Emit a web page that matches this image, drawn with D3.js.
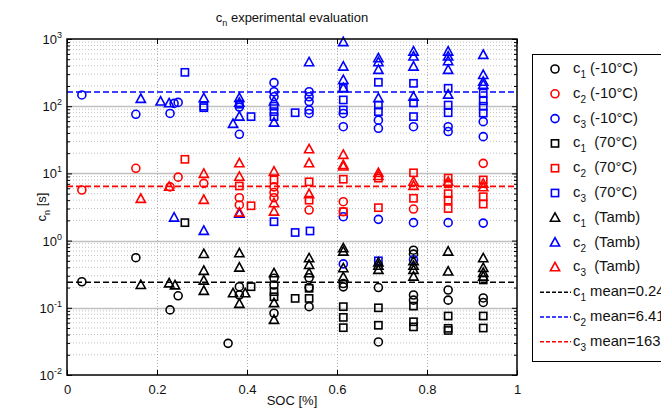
<!DOCTYPE html>
<html><head><meta charset="utf-8">
<script src="https://cdn.jsdelivr.net/npm/d3@7"></script>
<style>body{margin:0;background:#fff}svg{display:block;font-family:"Liberation Sans",Arial,sans-serif}</style>
</head><body><svg id="c" width="661" height="414"></svg>
<script>
// [SOC, value] pairs
const c1_m10 = [[0.033,0.244],[0.153,0.557],[0.229,0.093],[0.247,0.151],[0.383,0.206],[0.383,0.155],[0.358,0.0296],[0.46,0.275],[0.46,0.218],[0.46,0.083],[0.538,0.28],[0.538,0.2],[0.538,0.104],[0.614,0.23],[0.614,0.205],[0.692,0.2],[0.692,0.031],[0.77,0.72],[0.77,0.63],[0.77,0.155],[0.77,0.13],[0.847,0.184],[0.847,0.13],[0.925,0.14],[0.925,0.12]];
const c2_m10 = [[0.033,5.66],[0.153,11.9],[0.247,8.8],[0.229,6.3],[0.304,7.1],[0.383,4.35],[0.383,3.39],[0.46,6.3],[0.46,5.2],[0.46,4.35],[0.538,2.85],[0.614,3.79],[0.614,2.69],[0.77,2.95],[0.925,14.1]];
const c3_m10 = [[0.033,147],[0.153,75.7],[0.229,78],[0.238,110],[0.247,114],[0.383,38.2],[0.383,97],[0.46,224],[0.46,164],[0.46,138],[0.538,164],[0.538,138],[0.538,117],[0.538,88],[0.538,78],[0.614,78],[0.614,49.5],[0.614,2.27],[0.614,0.45],[0.692,62],[0.692,46.9],[0.692,2.07],[0.77,49.5],[0.77,1.85],[0.77,0.52],[0.847,49.5],[0.847,42],[0.847,1.85],[0.925,58.9],[0.925,35.2],[0.925,1.82]];
const c1_70 = [[0.262,1.85],[0.409,0.206],[0.507,0.138],[0.46,0.174],[0.46,0.146],[0.538,0.195],[0.538,0.138],[0.614,0.104],[0.614,0.072],[0.614,0.0506],[0.692,0.1],[0.692,0.055],[0.77,0.106],[0.77,0.062],[0.77,0.052],[0.847,0.0755],[0.847,0.0495],[0.847,0.046],[0.925,0.26],[0.925,0.0755],[0.925,0.05]];
const c2_70 = [[0.262,16.2],[0.383,6.5],[0.409,3.3],[0.46,8.0],[0.538,7.5],[0.538,4.0],[0.614,8.2],[0.614,2.69],[0.692,8.5],[0.692,3.09],[0.77,10.2],[0.77,4.26],[0.847,8.5],[0.847,7.0],[0.847,5.0],[0.847,4.0],[0.847,3.0],[0.925,8.0],[0.925,4.5],[0.925,3.5]];
const c3_70 = [[0.262,319],[0.304,100],[0.304,95],[0.383,107],[0.409,70],[0.46,100],[0.46,83],[0.46,70],[0.507,80],[0.614,185],[0.614,124],[0.614,88],[0.692,227],[0.692,104],[0.692,83],[0.77,219],[0.77,112],[0.77,70],[0.847,185],[0.847,104],[0.847,80],[0.925,157],[0.925,120],[0.925,100],[0.925,79],[0.46,1.91],[0.507,1.32],[0.54,1.39],[0.692,0.5]];
const c1_amb = [[0.164,0.218],[0.227,0.23],[0.240,0.215],[0.304,0.63],[0.304,0.353],[0.304,0.253],[0.304,0.178],[0.383,0.647],[0.383,0.395],[0.369,0.164],[0.396,0.164],[0.383,0.114],[0.46,0.326],[0.46,0.117],[0.46,0.066],[0.538,0.545],[0.538,0.433],[0.538,0.326],[0.614,0.768],[0.614,0.684],[0.614,0.387],[0.614,0.284],[0.692,0.47],[0.692,0.42],[0.692,0.365],[0.77,0.49],[0.77,0.42],[0.77,0.365],[0.77,0.29],[0.847,0.684],[0.847,0.345],[0.925,0.545],[0.925,0.39],[0.925,0.33],[0.925,0.29]];
const c2_amb = [[0.164,128],[0.208,117],[0.227,110],[0.238,2.19],[0.304,131],[0.304,1.39],[0.383,132],[0.383,112],[0.383,69.8],[0.369,54.3],[0.383,2.5],[0.46,117],[0.46,56.8],[0.538,450],[0.614,894],[0.614,387],[0.614,245],[0.614,185],[0.692,516],[0.692,450],[0.692,346],[0.692,131],[0.77,647],[0.77,546],[0.77,387],[0.77,138],[0.847,647],[0.847,546],[0.847,466],[0.847,346],[0.847,148],[0.925,578],[0.925,291],[0.925,230],[0.925,207]];
const c3_amb = [[0.164,4.16],[0.227,6.3],[0.304,9.8],[0.304,4.02],[0.383,14.1],[0.383,8.9],[0.383,2.6],[0.46,10.6],[0.46,3.59],[0.46,2.69],[0.538,22.8],[0.538,14.1],[0.538,4.9],[0.614,18.8],[0.614,13.3],[0.614,12.6],[0.692,10.1],[0.692,9.1],[0.77,7.5],[0.77,6.5],[0.847,7.5],[0.925,7.0],[0.925,6.2]];
const means = [0.24, 163, 6.41];
const meanLabels = ["0.24", "6.41", "163"];
const xTicks = [0, 0.2, 0.4, 0.6, 0.8, 1];
const yTicks = [0.01, 0.1, 1, 10, 100, 1000];
const yExps = ["-2", "-1", "0", "1", "2", "3"];

const series = [
  {data:c1_m10, sym:"circle", col:"#000", sub:"1", lab:" (-10°C)"},
  {data:c2_m10, sym:"circle", col:"#ff0000", sub:"2", lab:" (-10°C)"},
  {data:c3_m10, sym:"circle", col:"#0000ff", sub:"3", lab:" (-10°C)"},
  {data:c1_70, sym:"square", col:"#000", sub:"1", lab:"  (70°C)"},
  {data:c2_70, sym:"square", col:"#ff0000", sub:"2", lab:"  (70°C)"},
  {data:c3_70, sym:"square", col:"#0000ff", sub:"3", lab:"  (70°C)"},
  {data:c1_amb, sym:"tri", col:"#000", sub:"1", lab:"  (Tamb)"},
  {data:c2_amb, sym:"tri", col:"#0000ff", sub:"2", lab:"  (Tamb)"},
  {data:c3_amb, sym:"tri", col:"#ff0000", sub:"3", lab:"  (Tamb)"}
];
const meanCols = ["#000", "#0000ff", "#ff0000"];

const L=67, R=517, T=39, B=375;
const x = d3.scaleLinear().domain([0,1]).range([L,R]);
const y = d3.scaleLog().domain([0.01,1000]).range([B,T]);
const svg = d3.select("#c");

// grid
const g = svg.append("g");
const minors = [];
for (let e=-2;e<3;e++) for (let m=2;m<10;m++) minors.push(m*Math.pow(10,e));
g.selectAll(".mn").data(minors).join("line").attr("x1",L).attr("x2",R)
  .attr("y1",d=>y(d)).attr("y2",d=>y(d)).attr("stroke","#c0c0c0").attr("stroke-width",1).attr("stroke-dasharray","1,2");
g.selectAll(".mj").data(yTicks.slice(1,-1)).join("line").attr("x1",L).attr("x2",R)
  .attr("y1",d=>Math.round(y(d))+0.5).attr("y2",d=>Math.round(y(d))+0.5).attr("stroke","#c0c0c0").attr("stroke-width",1.5);
g.selectAll(".vx").data(xTicks.slice(1,-1)).join("line").attr("y1",T).attr("y2",B)
  .attr("x1",d=>Math.round(x(d))+0.5).attr("x2",d=>Math.round(x(d))+0.5).attr("stroke","#b0b0b0").attr("stroke-dasharray","1,2");

// axes (inward ticks)
svg.append("g").attr("transform",`translate(0,${B})`)
  .call(d3.axisBottom(x).tickValues(xTicks).tickSizeInner(-5).tickSizeOuter(0).tickPadding(10).tickFormat(d=>d3.format("")(d)))
  .call(s=>{s.select(".domain").remove();s.selectAll("text").attr("font-size",13).attr("font-family","Liberation Sans, Arial").attr("fill","#111");});
svg.append("g").attr("transform",`translate(0,${T})`)
  .call(d3.axisTop(x).tickValues(xTicks).tickSizeInner(-5).tickSizeOuter(0).tickFormat(""))
  .call(s=>s.select(".domain").remove());
svg.append("g").attr("transform",`translate(${L},0)`)
  .call(d3.axisLeft(y).tickValues(minors).tickSizeInner(-3).tickSizeOuter(0).tickFormat(""))
  .call(s=>s.select(".domain").remove());
svg.append("g").attr("transform",`translate(${R},0)`)
  .call(d3.axisRight(y).tickValues(minors).tickSizeInner(-3).tickSizeOuter(0).tickFormat(""))
  .call(s=>s.select(".domain").remove());
svg.append("g").attr("transform",`translate(${L},0)`)
  .call(d3.axisLeft(y).tickValues(yTicks).tickSizeInner(-5).tickSizeOuter(0).tickFormat(""))
  .call(s=>s.select(".domain").remove());
svg.append("g").attr("transform",`translate(${R},0)`)
  .call(d3.axisRight(y).tickValues(yTicks).tickSizeInner(-5).tickSizeOuter(0).tickFormat(""))
  .call(s=>s.select(".domain").remove());

// y tick labels 10^n
yTicks.forEach((v,i)=>{
  const t = svg.append("text").attr("x",62).attr("y",y(v)+5).attr("text-anchor","end").attr("font-size",13).attr("fill","#111");
  t.append("tspan").text("10");
  t.append("tspan").attr("dy",-6).attr("font-size",9).text(yExps[i]);
});

// mean lines
means.forEach((m,i)=>{
  svg.append("line").attr("x1",L).attr("x2",R).attr("y1",y(m)).attr("y2",y(m))
    .attr("stroke",meanCols[i]).attr("stroke-width",1.6).attr("stroke-dasharray","6,3");
});

// markers
function drawSym(sel, sym, col){
  if(sym==="circle") sel.append("circle").attr("r",4).attr("fill","none").attr("stroke",col).attr("stroke-width",1.6);
  else if(sym==="square") sel.append("rect").attr("x",-3.6).attr("y",-3.6).attr("width",7.2).attr("height",7.2).attr("fill","none").attr("stroke",col).attr("stroke-width",1.6);
  else sel.append("path").attr("d","M0,-5L4.6,3.4L-4.6,3.4Z").attr("fill","none").attr("stroke",col).attr("stroke-width",1.6);
}
const pts = svg.append("g");
series.forEach(s=>{
  s.data.forEach(d=>{
    const gg = pts.append("g").attr("transform",`translate(${x(d[0])},${y(d[1])})`);
    drawSym(gg, s.sym, s.col);
  });
});

// frame
svg.append("rect").attr("x",L).attr("y",T).attr("width",R-L).attr("height",B-T).attr("fill","none").attr("stroke","#000").attr("stroke-width",1.5);

// title & labels
const tt = svg.append("text").attr("x",(L+R)/2).attr("y",22).attr("text-anchor","middle").attr("font-size",13).attr("fill","#111");
tt.append("tspan").text("c");
tt.append("tspan").attr("dy",4).attr("font-size",9).text("n");
tt.append("tspan").attr("dy",-4).text(" experimental evaluation");
svg.append("text").attr("x",(L+R)/2).attr("y",405).attr("text-anchor","middle").attr("font-size",13).attr("fill","#111").text("SOC [%]");
const yl = svg.append("text").attr("transform",`translate(46,${(T+B)/2}) rotate(-90)`).attr("text-anchor","middle").attr("font-size",13).attr("fill","#111");
yl.append("tspan").text("c");
yl.append("tspan").attr("dy",4).attr("font-size",9).text("n");
yl.append("tspan").attr("dy",-4).text(" [s]");

// legend
const lg = svg.append("g");
lg.append("rect").attr("x",532.5).attr("y",54.5).attr("width",160).attr("height",307).attr("fill","#fff").attr("stroke","#000").attr("stroke-width",1);
const rowY = i => 69 + i*24.8;
series.forEach((s,i)=>{
  const gg = lg.append("g").attr("transform",`translate(555,${rowY(i)})`);
  drawSym(gg, s.sym, s.col);
  const t = lg.append("text").attr("x",573).attr("y",rowY(i)+4).attr("font-size",14.8).attr("fill","#111").attr("xml:space","preserve");
  t.append("tspan").text("c");
  t.append("tspan").attr("dy",5).attr("font-size",10).text(s.sub);
  t.append("tspan").attr("dy",-5).text(s.lab);
});
means.forEach((m,i)=>{
  const yy = rowY(9+i);
  lg.append("line").attr("x1",540).attr("x2",571).attr("y1",yy).attr("y2",yy).attr("stroke",meanCols[i]).attr("stroke-width",1.5).attr("stroke-dasharray","4,2");
  const t = lg.append("text").attr("x",573).attr("y",yy+4).attr("font-size",14.8).attr("fill","#111");
  t.append("tspan").text("c");
  t.append("tspan").attr("dy",5).attr("font-size",10).text(String(i+1));
  t.append("tspan").attr("dy",-5).text(" mean=" + meanLabels[i]);
});
</script></body></html>
